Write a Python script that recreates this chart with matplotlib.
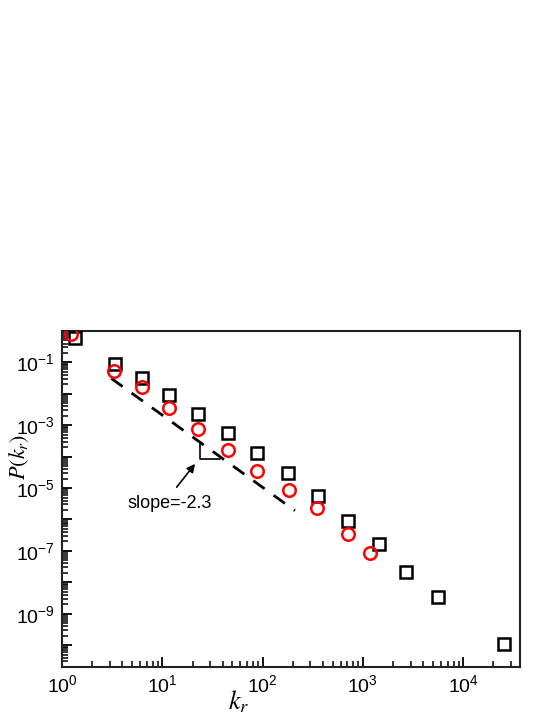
import numpy as np
import matplotlib
matplotlib.use('Agg')
import matplotlib.pyplot as plt
from matplotlib.ticker import FixedLocator, NullFormatter, FuncFormatter

plt.rcParams['font.family'] = ['Liberation Sans', 'DejaVu Sans']
plt.rcParams['mathtext.fontset'] = 'stix'
plt.rcParams['axes.unicode_minus'] = False

# Dados
k_sq = [1.35, 3.4, 6.2, 11.7, 22.9, 45.5, 88.5, 178, 354, 705, 1458, 2710, 5650, 25700]
p_sq = [0.6, 0.089, 0.031, 0.0091, 0.0023, 5.6e-4, 1.3e-4, 3.0e-5, 5.5e-6,
        9.2e-7, 1.6e-7, 2.2e-8, 3.4e-9, 1.05e-10]

k_ci = [1.22, 3.32, 6.2, 11.7, 22.9, 45.5, 88, 183, 350, 705, 1178]
p_ci = [0.8, 0.054, 0.016, 0.0036, 7.8e-4, 1.6e-4, 3.6e-5, 8.8e-6, 2.4e-6, 3.4e-7, 8.3e-8]

# reta de ajuste
slope = -2.3
k_fit = np.array([3.1, 210])
p_fit = 0.031 * (k_fit / 3.1) ** slope

# triangulo da inclinacao
k_tri = [23.8, 23.8, 38.0]
p_tri = [0.031 * (23.8 / 3.1) ** slope, 8.6e-5, 8.6e-5]

fig = plt.figure(figsize=(5.54, 7.17), dpi=100)
ax = fig.add_axes([0.112, 0.0697, 0.827, 0.4686])
ax.set_xscale('log')
ax.set_yscale('log')

ax.plot(k_fit, p_fit, color='black', lw=2.0, ls=(0, (5, 4)), zorder=1)
ax.plot(k_tri, p_tri, color='black', lw=1.2, zorder=1)
ax.plot(k_sq, p_sq, 's', ms=8.5, mfc='none', mec='black', mew=1.8, zorder=3)
ax.plot(k_ci, p_ci, 'o', ms=9, mfc='none', mec='red', mew=1.8, zorder=4)

# seta e texto da inclinacao
ax.annotate('', xy=(21.2, 5.9e-5), xytext=(13.9, 1.07e-5),
            arrowprops=dict(arrowstyle='-|>', color='black', lw=1.2,
                            shrinkA=0, shrinkB=0, mutation_scale=12))
ax.text(11.9, 3.3e-6, 'slope=-2.3', ha='center', va='center', fontsize=13)

ax.set_xlim(1, 37000)
ax.set_ylim(2e-11, 1)

# ticks maiores e menores
x_dec = np.arange(0, 5)
y_dec = np.arange(-10, 1)
sub = np.arange(2, 10)
ax.xaxis.set_major_locator(FixedLocator(10.0 ** x_dec))
ax.xaxis.set_minor_locator(FixedLocator(np.outer(10.0 ** x_dec, sub).ravel()))
ax.yaxis.set_major_locator(FixedLocator(10.0 ** y_dec))
ax.yaxis.set_minor_locator(FixedLocator(np.outer(10.0 ** np.arange(-11, 1), sub).ravel()))
ax.xaxis.set_minor_formatter(NullFormatter())
ax.yaxis.set_minor_formatter(NullFormatter())


def fmt_y(v, pos):
    e = int(round(np.log10(v)))
    if e % 2 == 0:
        return ''
    return r'$\mathregular{10^{%d}}$' % e


def fmt_x(v, pos):
    e = int(round(np.log10(v)))
    return r'$\mathregular{10^{%d}}$' % e


ax.yaxis.set_major_formatter(FuncFormatter(fmt_y))
ax.xaxis.set_major_formatter(FuncFormatter(fmt_x))

ax.tick_params(which='both', direction='in', top=False, right=False, labelsize=14)
ax.tick_params(which='major', length=7, width=1.3, pad=5)
ax.tick_params(which='minor', length=4.5, width=1.1, color='black')
for s in ax.spines.values():
    s.set_linewidth(1.5)
    s.set_color('#222222')

ax.set_xlabel(r'$k_r$', fontsize=19)
ax.xaxis.set_label_coords(0.385, -0.065)
ax.set_ylabel(r'$P(k_r)$', fontsize=16)
ax.yaxis.set_label_coords(-0.068, 0.625)

fig.savefig('out.png', dpi=100)
